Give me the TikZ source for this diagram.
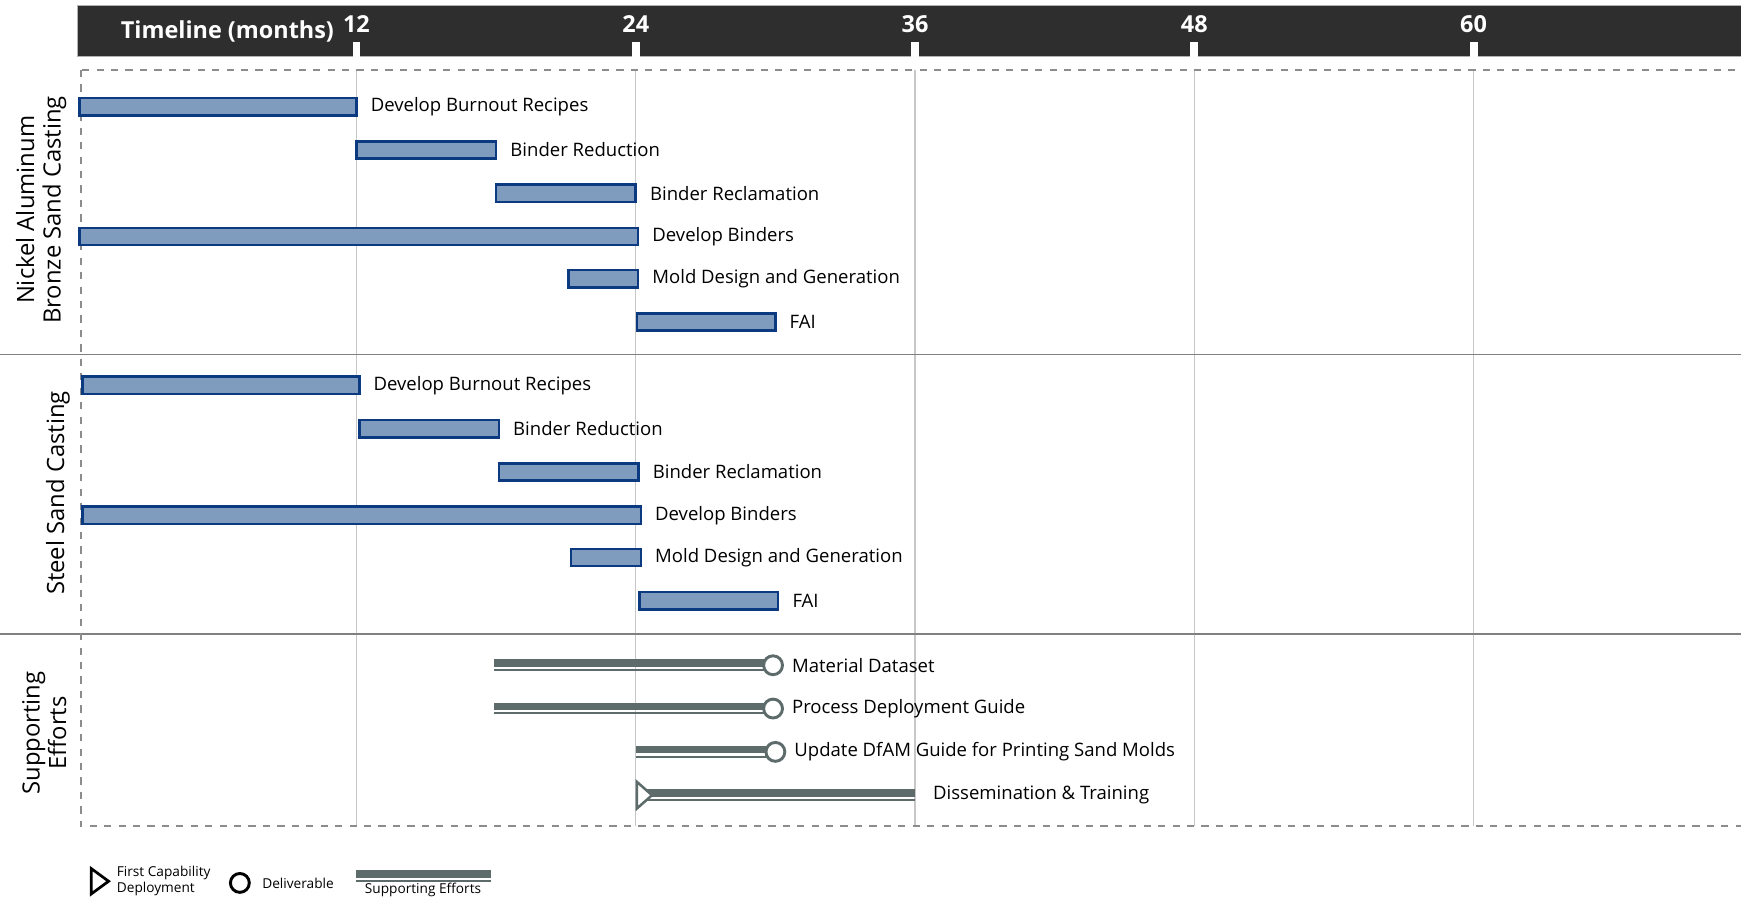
\documentclass[tikz,border=0pt]{standalone}
\usepackage{fontspec}
\setmainfont{Open Sans}
\usetikzlibrary{positioning}
\definecolor{barfill}{HTML}{7F9CBF}
\definecolor{barline}{HTML}{0B3A80}
\definecolor{effort}{HTML}{5E6B6B}
\definecolor{headbg}{HTML}{2E2E2E}
\begin{document}
\begin{tikzpicture}[x=0.4192cm,y=-0.02cm,
  bar/.style={draw=barline,fill=barfill,line width=1.3pt},
  task/.style={anchor=west,inner sep=0pt,font=\fontsize{9.5}{11}\selectfont},
  group/.style={rotate=90,anchor=south,align=center,inner sep=0pt,font=\fontsize{12.2}{13.6}\selectfont},
  month/.style={text=white,inner sep=0pt,font=\fontsize{12}{14}\selectfont\bfseries},
  gridline/.style={draw=black!22,line width=0.6pt},
  sepline/.style={draw=black!50,line width=0.8pt},
  thickline/.style={effort,line width=3.7pt},
  thinline/.style={effort,line width=1pt},
  deliv/.style={circle,draw=effort,fill=white,line width=1.5pt,minimum size=0.34cm,inner sep=0pt},
  legend/.style={inner sep=0pt,align=left,font=\fontsize{7}{8}\selectfont}]
  \useasboundingbox (-3.316,0) rectangle (71.49,808);

  % header with month ticks
  \fill[headbg,draw=black!30,line width=0.5pt] (0,5) rectangle (72,51);
  \node[month,anchor=east] (title) at (11.05,28) {Timeline (months)};
  \node[month] (m12) at (12,22) {12};
  \node[month] (m24) at (24,22) {24};
  \node[month] (m36) at (36,22) {36};
  \node[month] (m48) at (48,22) {48};
  \node[month] (m60) at (60,22) {60};
  \fill[white] (11.83,38) rectangle (12.17,51);
  \fill[white] (23.83,38) rectangle (24.17,51);
  \fill[white] (35.83,38) rectangle (36.17,51);
  \fill[white] (47.83,38) rectangle (48.17,51);
  \fill[white] (59.83,38) rectangle (60.17,51);

  % grid and frame
  \draw[gridline] (12,63) -- (12,744);
  \draw[gridline] (24,63) -- (24,744);
  \draw[gridline] (36,63) -- (36,744);
  \draw[gridline] (48,63) -- (48,744);
  \draw[gridline] (60,63) -- (60,744);
  \draw[sepline] (-3.316,319) -- (71.49,319);
  \draw[sepline] (-3.316,571) -- (71.49,571);
  \draw[black!45,line width=0.9pt,dash pattern=on 3.7pt off 3.7pt] (0.15,63) rectangle (73,744);

  % group labels
  \node[group] (nab) at (-0.45,189) {Nickel Aluminum\\Bronze Sand Casting};
  \node[group] (steel) at (-0.3,444) {Steel Sand Casting};
  \node[group] (support) at (-0.45,660) {Supporting\\Efforts};

  % nickel aluminum bronze tasks
  \draw[bar] (0.1,88.2) rectangle (12,103.8);
  \node[task] (nab1) at (12.6,96) {Develop Burnout Recipes};
  \draw[bar] (12,127.2) rectangle (18,142.8);
  \node[task] (nab2) at (18.6,135) {Binder Reduction};
  \draw[bar] (18,166.2) rectangle (24,181.8);
  \node[task] (nab3) at (24.6,174) {Binder Reclamation};
  \draw[bar] (0.1,205.2) rectangle (24.1,220.8);
  \node[task] (nab4) at (24.7,213) {Develop Binders};
  \draw[bar] (21.1,243.2) rectangle (24.1,258.8);
  \node[task] (nab5) at (24.7,251) {Mold Design and Generation};
  \draw[bar] (24.05,282.2) rectangle (30,297.8);
  \node[task] (nab6) at (30.6,290) {FAI};

  % steel tasks
  \begin{scope}[xshift=0.05cm]
  \draw[bar] (0.1,339.2) rectangle (12,354.8);
  \node[task] (st1) at (12.6,347) {Develop Burnout Recipes};
  \draw[bar] (12,378.2) rectangle (18,393.8);
  \node[task] (st2) at (18.6,386) {Binder Reduction};
  \draw[bar] (18,417.2) rectangle (24,432.8);
  \node[task] (st3) at (24.6,425) {Binder Reclamation};
  \draw[bar] (0.1,456.2) rectangle (24.1,471.8);
  \node[task] (st4) at (24.7,464) {Develop Binders};
  \draw[bar] (21.1,494.2) rectangle (24.1,509.8);
  \node[task] (st5) at (24.7,502) {Mold Design and Generation};
  \draw[bar] (24.05,533.2) rectangle (30,548.8);
  \node[task] (st6) at (30.6,541) {FAI};
  \end{scope}

  % supporting efforts
  \coordinate (mds) at (17.9,599);
  \coordinate (mde) at (29.9,599);
  \draw[thickline] ([yshift=1.1pt]mds) -- ([yshift=1.1pt]mde);
  \draw[thinline] ([yshift=-2.5pt]mds) -- ([yshift=-2.5pt]mde);
  \node[deliv] (md) at (mde) {};
  \node[task,right=0.14cm of md] (mdl) {Material Dataset};

  \coordinate (pds) at (17.9,638);
  \coordinate (pde) at (29.9,638);
  \draw[thickline] ([yshift=1.1pt]pds) -- ([yshift=1.1pt]pde);
  \draw[thinline] ([yshift=-2.5pt]pds) -- ([yshift=-2.5pt]pde);
  \node[deliv] (pd) at (pde) {};
  \node[task,right=0.14cm of pd] (pdl) {Process Deployment Guide};

  \coordinate (dgs) at (24,677);
  \coordinate (dge) at (30,677);
  \draw[thickline] ([yshift=1.1pt]dgs) -- ([yshift=1.1pt]dge);
  \draw[thinline] ([yshift=-2.5pt]dgs) -- ([yshift=-2.5pt]dge);
  \node[deliv] (dg) at (dge) {};
  \node[task,right=0.14cm of dg] (dgl) {Update DfAM Guide for Printing Sand Molds};

  \coordinate (dts) at (24.1,716);
  \coordinate (dte) at (36,716);
  \draw[thickline] ([yshift=1.1pt]dts) -- ([yshift=1.1pt]dte);
  \draw[thinline] ([yshift=-2.5pt]dts) -- ([yshift=-2.5pt]dte);
  \draw[effort,fill=white,line width=1.3pt] (24.05,704) -- (24.7,716) -- (24.05,728) -- cycle;
  \node[task,right=0.32cm of dte] (dtl) {Dissemination \& Training};

  % legend
  \draw[black,line width=1.4pt] (0.6,782) -- (1.35,793.5) -- (0.6,805) -- cycle;
  \node[legend,anchor=west] (lfcd) at (1.69,793) {First Capability\\Deployment};
  \node[circle,draw=black,line width=1.5pt,minimum size=0.34cm,inner sep=0pt] (ldel) at (6.99,795) {};
  \node[legend,anchor=west] (ldell) at (7.94,795) {Deliverable};
  \coordinate (lses) at (12,787);
  \coordinate (lsee) at (17.77,787);
  \draw[thickline] (lses) -- (lsee);
  \draw[thinline] ([yshift=-3.7pt]lses) -- ([yshift=-3.7pt]lsee);
  \node[legend] (lsel) at (14.86,801.5) {Supporting Efforts};
\end{tikzpicture}
\end{document}
